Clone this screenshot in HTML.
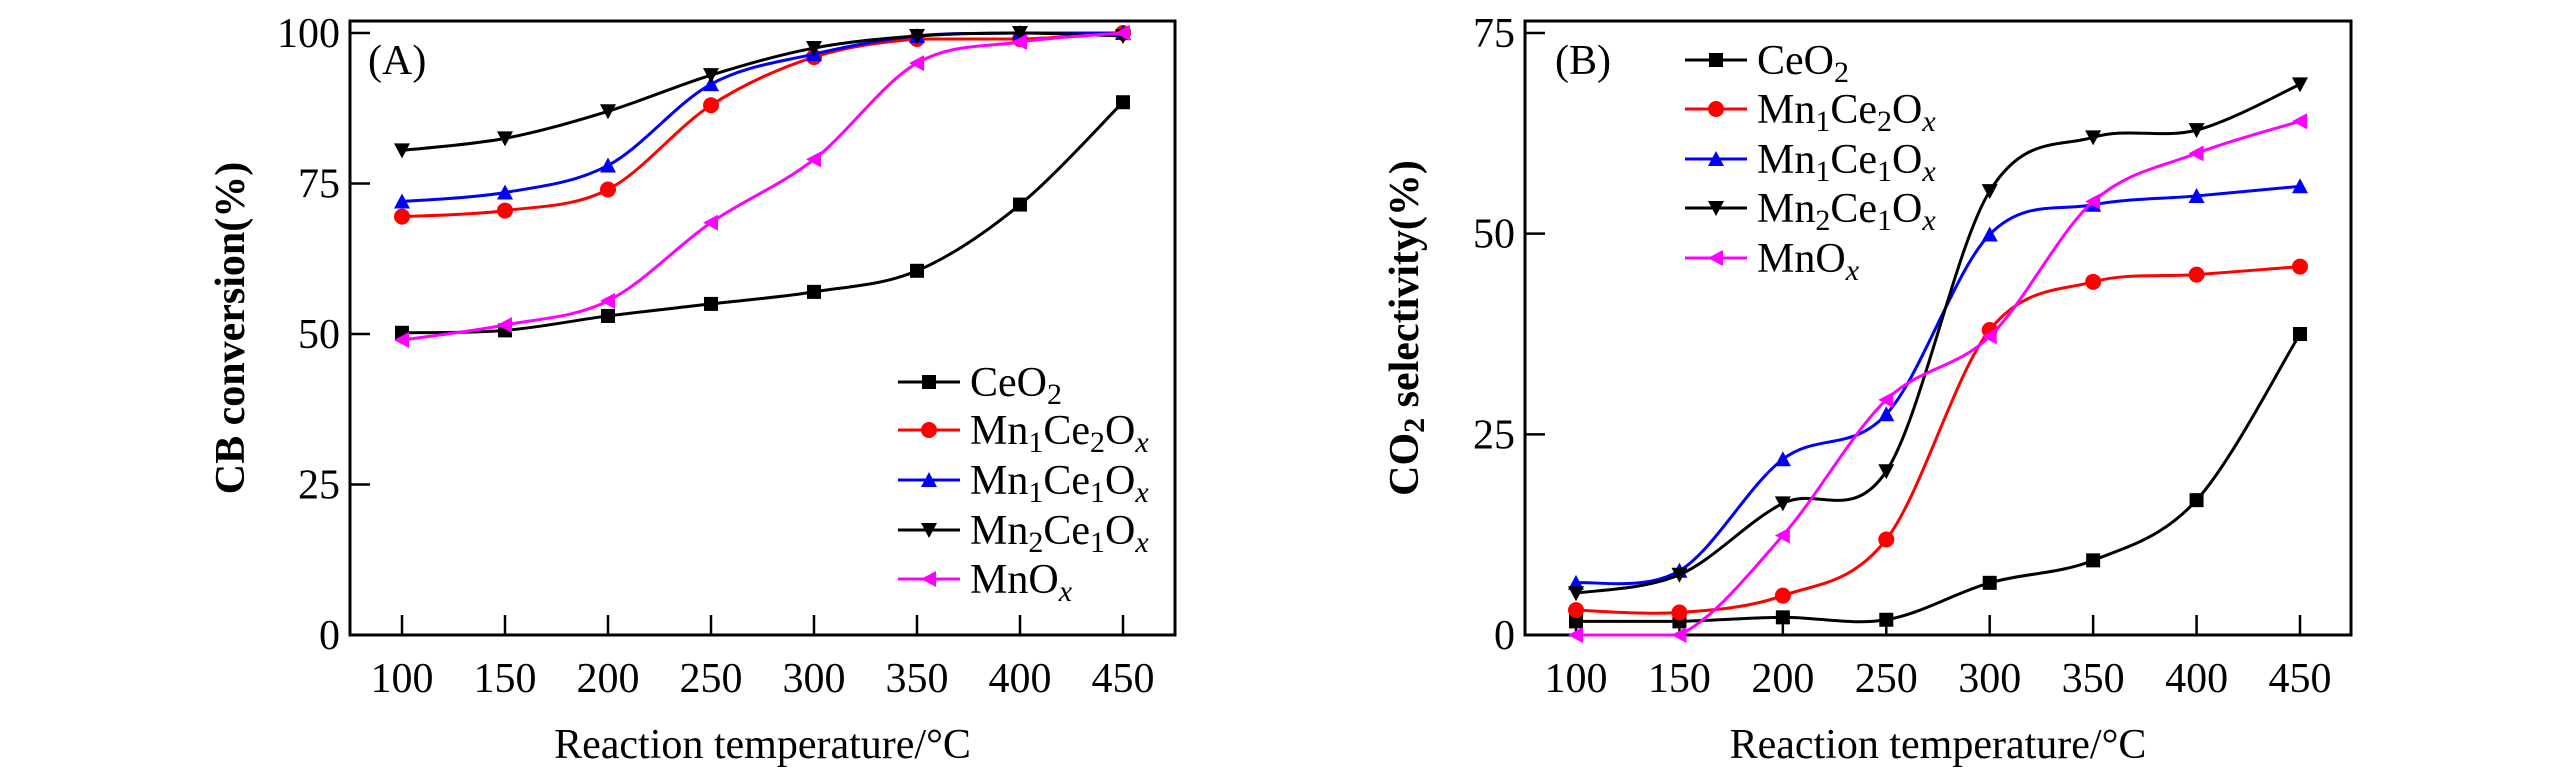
<!DOCTYPE html>
<html><head><meta charset="utf-8"><style>
html,body{margin:0;padding:0;background:#fff;}
svg{display:block;font-family:"Liberation Serif",serif;}
</style></head><body>
<svg id="fig" width="2567" height="769" viewBox="0 0 2567 769" xmlns="http://www.w3.org/2000/svg"></svg>
<script>
const temps = [100,150,200,250,300,350,400,450];
const seriesNames = ["CeO2","Mn1Ce2Ox","Mn1Ce1Ox","Mn2Ce1Ox","MnOx"];
const seriesColors = ["#000","#f00","#00f","#000","#f0f"];
const seriesMarkers = ["square","circle","tri-up","tri-down","tri-left"];
const convCeO2 = [50.2,50.6,53,55,57,60.5,71.5,88.5];
const convMn1Ce2 = [69.5,70.5,74,88,96,99,99,100];
const convMn1Ce1 = [72,73.5,78,91.5,96.5,99.5,100,100];
const convMn2Ce1 = [80.5,82.5,87,93,97.5,99.5,100,99.5];
const convMnOx = [49,51.5,55.5,68.5,79,95,98.5,100];
const selCeO2 = [1.7,1.7,2.2,1.9,6.5,9.3,16.8,37.5];
const selMn1Ce2 = [3.1,2.8,4.9,11.9,38,44,44.9,45.9];
const selMn1Ce1 = [6.5,8,21.9,27.5,49.9,53.6,54.7,55.9];
const selMn2Ce1 = [5.2,7.5,16.4,20.4,55.3,62,62.9,68.6];
const selMnOx = [0,0,12.4,29.3,37.2,54,60,64];
const ticksA = [0,25,50,75,100];
const ticksB = [0,25,50,75];

const NS="http://www.w3.org/2000/svg";
const svg=document.getElementById('fig');
function mk(tag,attrs,parent){const e=document.createElementNS(NS,tag);for(const k in attrs)e.setAttribute(k,attrs[k]);(parent||svg).appendChild(e);return e;}
function smooth(pts){let d=`M${pts[0][0]},${pts[0][1]}`;for(let i=0;i<pts.length-1;i++){const p0=pts[Math.max(i-1,0)],p1=pts[i],p2=pts[i+1],p3=pts[Math.min(i+2,pts.length-1)];const c1=[p1[0]+(p2[0]-p0[0])/6,p1[1]+(p2[1]-p0[1])/6];const c2=[p2[0]-(p3[0]-p1[0])/6,p2[1]-(p3[1]-p1[1])/6];if(p1[1]===p2[1]){c1[1]=p1[1];c2[1]=p2[1];}d+=` C${c1[0]},${c1[1]} ${c2[0]},${c2[1]} ${p2[0]},${p2[1]}`;}return d;}
function marker(g,type,x,y,c){const s=7;
 if(type==="square")return mk('rect',{x:x-s,y:y-s,width:2*s,height:2*s,fill:c},g);
 if(type==="circle")return mk('circle',{cx:x,cy:y,r:s+1,fill:c},g);
 let p;
 if(type==="tri-up")p=[[x,y-s-1],[x+s+1,y+s],[x-s-1,y+s]];
 if(type==="tri-down")p=[[x,y+s+1],[x+s+1,y-s],[x-s-1,y-s]];
 if(type==="tri-left")p=[[x-s-1,y],[x+s,y-s-1],[x+s,y+s+1]];
 return mk('polygon',{points:p.map(q=>q.join(',')).join(' '),fill:c},g);}

function panel(cfg){
 const g=mk('g',{});
 
 
 const X=t=>cfg.x0+(t-100)/350*(cfg.x1-cfg.x0);
 const Y=v=>cfg.yb-(v-0)/cfg.ymax*(cfg.yb-cfg.yt);
 const frame=mk('rect',{x:cfg.L,y:21,width:cfg.R-cfg.L,height:614,fill:'none',stroke:'#000','stroke-width':3},g);
 
 
 cfg.yticks.forEach(v=>{
  mk('line',{x1:cfg.L,x2:cfg.L+20,y1:Y(v),y2:Y(v),stroke:'#000','stroke-width':2.5},g);
  const t=mk('text',{x:cfg.L-10,y:Y(v)+14,'text-anchor':'end','font-size':42},g);t.textContent=v;
  
  
 });
 temps.forEach(v=>{
  mk('line',{x1:X(v),x2:X(v),y1:635,y2:615,stroke:'#000','stroke-width':2.5},g);
  const t=mk('text',{x:X(v),y:692,'text-anchor':'middle','font-size':42},g);t.textContent=v;
  
  
 });
 const xt=mk('text',{x:(cfg.L+cfg.R)/2,y:758,'text-anchor':'middle','font-size':42},g);xt.textContent='Reaction temperature/°C';
 
 
 const yt=mk('text',{x:0,y:0,'text-anchor':'middle','font-size':42,'font-weight':'bold',transform:`translate(${cfg.ytx},328) rotate(-90)`},g);
 yt.innerHTML=cfg.ytitle;
 
 
 const lab=mk('text',{x:cfg.labx,y:74,'font-size':42},g);lab.textContent=cfg.label;
 
 
 cfg.data.forEach((arr,i)=>{
  const sg=mk('g',{},g);
  
  
  const pts=arr.map((v,j)=>[X(temps[j]),Y(v)]);
  mk('path',{d:smooth(pts),fill:'none',stroke:seriesColors[i],'stroke-width':3},sg);
  pts.forEach(p=>{const m=marker(sg,seriesMarkers[i],p[0],p[1],seriesColors[i]);
   
   });
 });
 const labels=['CeO<tspan font-size="30" dy="8">2</tspan>',
 'Mn<tspan font-size="30" dy="8">1</tspan><tspan dy="-8">Ce</tspan><tspan font-size="30" dy="8">2</tspan><tspan dy="-8">O</tspan><tspan font-size="30" dy="8" font-style="italic">x</tspan>',
 'Mn<tspan font-size="30" dy="8">1</tspan><tspan dy="-8">Ce</tspan><tspan font-size="30" dy="8">1</tspan><tspan dy="-8">O</tspan><tspan font-size="30" dy="8" font-style="italic">x</tspan>',
 'Mn<tspan font-size="30" dy="8">2</tspan><tspan dy="-8">Ce</tspan><tspan font-size="30" dy="8">1</tspan><tspan dy="-8">O</tspan><tspan font-size="30" dy="8" font-style="italic">x</tspan>',
 'MnO<tspan font-size="30" dy="8" font-style="italic">x</tspan>'];
 labels.forEach((l,i)=>{
  const y=cfg.legY[i];
  const lg=mk('g',{},g);
  
  
  mk('line',{x1:cfg.legX,x2:cfg.legX+62,y1:y,y2:y,stroke:seriesColors[i],'stroke-width':3},lg);
  marker(lg,seriesMarkers[i],cfg.legX+31,y,seriesColors[i]);
  const t=mk('text',{x:cfg.legX+72,y:y+14,'font-size':42},lg);t.innerHTML=l;
 });
}
panel({name:'panel-a-cb-conversion',L:350,R:1175,x0:402,x1:1123,yt:33,yb:635,ymax:100,yticks:ticksA,
 ytx:244,ytitle:'CB conversion(%)',label:'(A)',labx:368,
 data:[convCeO2,convMn1Ce2,convMn1Ce1,convMn2Ce1,convMnOx],legX:898,legY:[382,430,480,530,579]});
panel({name:'panel-b-co2-selectivity',L:1525,R:2351,x0:1576,x1:2300,yt:33,yb:635,ymax:75,yticks:ticksB,
 ytx:1418,ytitle:'CO<tspan font-size="30" dy="6">2</tspan><tspan dy="-6"> selectivity(%)</tspan>',label:'(B)',labx:1555,
 data:[selCeO2,selMn1Ce2,selMn1Ce1,selMn2Ce1,selMnOx],legX:1685,legY:[60,109,159,208,258]});
</script>
</body></html>
